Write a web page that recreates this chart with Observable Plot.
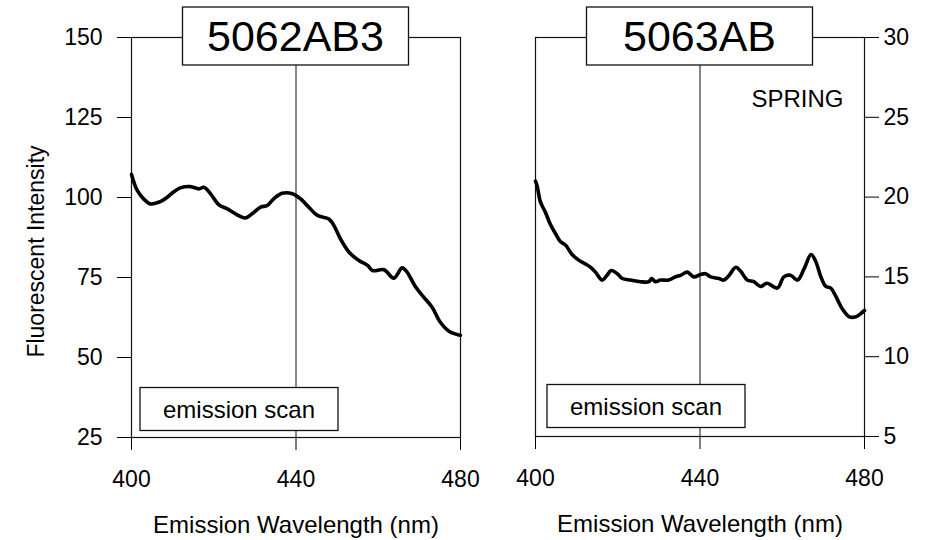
<!DOCTYPE html>
<html>
<head>
<meta charset="utf-8">
<script src="https://cdn.jsdelivr.net/npm/d3@7"></script>
<script src="https://cdn.jsdelivr.net/npm/@observablehq/plot@0.6"></script>
<style>
  html, body { margin: 0; padding: 0; background: #fff; }
  #chart { position: relative; width: 940px; height: 540px; overflow: hidden; background: #fff; }
  #chart svg { position: absolute; top: 0; }
</style>
</head>
<body>
<div id="chart"></div>
<script>
// Emission scans, sample 5062AB3
const leftWavelength = [400, 401.4, 403, 404.6, 406.6, 408.7, 410.3, 411.9, 414.3, 416.4, 417.6, 419.2, 421.2, 423.2, 425.7, 427.7, 429.3, 431.4, 433.0, 434.6, 436.6, 439.1, 441.1, 443.1, 445.2, 448.0, 449.2, 450.8, 452.9, 455.3, 457.4, 458.6, 461.4, 463.8, 465.8, 467.0, 469.1, 471.1, 473.1, 475.1, 477.2, 480];
const leftIntensity = [107.2, 102.2, 99.5, 98.0, 98.5, 100.1, 101.8, 103.0, 103.4, 102.7, 103.2, 101.2, 97.8, 96.5, 94.6, 93.6, 94.9, 97.0, 97.5, 99.6, 101.3, 101.2, 99.6, 97.0, 94.4, 93.3, 91.3, 87.1, 82.9, 80.3, 78.8, 77.2, 77.4, 74.8, 78.0, 76.7, 72.0, 68.8, 65.7, 61.0, 58.2, 56.9];

// Emission scans, sample 5063AB (spring)
const rightWavelength = [400, 400.4, 401.2, 402.4, 403.6, 404.9, 406.1, 407.3, 408.9, 410.5, 412.2, 413.4, 414.6, 416.2, 417.4, 418.4, 419.9, 421.1, 423.1, 425.5, 427.6, 428.2, 429.2, 430.4, 432.4, 434.0, 435.3, 436.9, 438.5, 440.1, 441.3, 442.6, 444.6, 445.8, 447.1, 448.7, 449.9, 451.5, 453.1, 454.7, 456.3, 458.8, 460.4, 462.0, 463.7, 465.3, 467.0, 468.1, 469.4, 470.6, 471.8, 473.0, 474.6, 476.3, 477.9, 479.1, 480];
const rightIntensity = [21.0, 20.7, 19.7, 19.05, 18.3, 17.7, 17.2, 17.0, 16.4, 16.05, 15.8, 15.6, 15.3, 14.8, 15.1, 15.4, 15.2, 14.9, 14.8, 14.7, 14.7, 14.9, 14.7, 14.8, 14.8, 15.0, 15.1, 15.3, 15.0, 15.15, 15.2, 15.0, 14.9, 14.8, 15.1, 15.6, 15.35, 14.8, 14.7, 14.4, 14.6, 14.3, 15.0, 15.1, 14.8, 15.5, 16.4, 16.0, 15.0, 14.4, 14.3, 13.8, 13.0, 12.5, 12.5, 12.7, 12.9];

const xTicks = [400, 440, 480];
const leftTicks = [25, 50, 75, 100, 125, 150];
const rightTicks = [5, 10, 15, 20, 25, 30];

const sampleNames = ["5062AB3", "5063AB"];
const scanLabel = "emission scan";
const seasonLabel = "SPRING";
const xTitle = "Emission Wavelength (nm)";
const yTitle = "Fluorescent Intensity";

const FONT = '"Liberation Sans", Arial, Helvetica, sans-serif';
const INK = "#111";

const toRows = (xs, ys) => xs.map((x, i) => ({wavelength: x, intensity: ys[i]}));

// A white box with centered text, drawn on top of the plot
function labelBox(svg, {cx, cy, w, h, text, size}) {
  const g = d3.select(svg).append("g");
  g.append("rect")
    .attr("x", cx - w / 2).attr("y", cy - h / 2)
    .attr("width", w).attr("height", h)
    .attr("fill", "#fff").attr("stroke", INK).attr("stroke-width", 1.3);
  g.append("text")
    .attr("x", cx).attr("y", cy)
    .attr("text-anchor", "middle").attr("dominant-baseline", "central")
    .attr("font-family", FONT).attr("font-size", size).attr("fill", "#000")
    .text(text);
}

function panel({rows, yDomain, yTicks, yAnchor, width, left, margins, tickPadY, extraMarks, name, scanBox}) {
  const plot = Plot.plot({
    width, height: 540,
    marginLeft: margins.left, marginRight: margins.right,
    marginTop: margins.top, marginBottom: margins.bottom,
    style: {fontFamily: FONT, fontSize: "23px", color: "#000", background: "transparent", overflow: "visible"},
    x: {domain: [400, 480], ticks: xTicks, tickSize: 13, tickPadding: 20, label: null},
    y: {domain: yDomain, ticks: yTicks, axis: yAnchor, tickSize: 14, tickPadding: tickPadY, label: null},
    marks: [
      Plot.ruleX([440], {stroke: INK, strokeWidth: 1}),
      Plot.frame({stroke: INK, strokeWidth: 1.2}),
      Plot.line(rows, {x: "wavelength", y: "intensity", stroke: "#000", strokeWidth: 3.6, curve: "catmull-rom", strokeLinejoin: "round"}),
      Plot.text([xTitle], {text: d => d, frameAnchor: "bottom", dy: 88, textAnchor: "middle", lineAnchor: "middle", fontSize: 24}),
      ...extraMarks
    ]
  });
  plot.style.left = left + "px";
  document.getElementById("chart").appendChild(plot);

  const x = plot.scale("x");
  const y = plot.scale("y");
  const top = y.apply(yDomain[1]);
  const bottom = y.apply(yDomain[0]);
  const x0 = x.apply(400);
  // sample name, centered on the 440 nm line across the top edge
  labelBox(plot, {cx: x.apply(440), cy: top - 1, w: 226, h: 58, text: name, size: 43});
  // scan type, tucked into the lower-left corner
  labelBox(plot, {cx: x0 + scanBox.dx + 99, cy: bottom - scanBox.dy - 22, w: 198, h: 43, text: scanLabel, size: 24});
}

panel({
  rows: toRows(leftWavelength, leftIntensity),
  yDomain: [25, 150], yTicks: leftTicks, yAnchor: "left",
  width: 490, left: 0,
  margins: {left: 131, right: 30, top: 37, bottom: 103},
  tickPadY: 15,
  name: sampleNames[0],
  scanBox: {dx: 9, dy: 6},
  extraMarks: [
    Plot.text([yTitle], {text: d => d, frameAnchor: "left", dx: -95, dy: 14, rotate: -90, textAnchor: "middle", lineAnchor: "middle", fontSize: 23})
  ]
});

panel({
  rows: toRows(rightWavelength, rightIntensity),
  yDomain: [5, 30], yTicks: rightTicks, yAnchor: "right",
  width: 450, left: 490,
  margins: {left: 45, right: 76, top: 37, bottom: 104},
  tickPadY: 5,
  name: sampleNames[1],
  scanBox: {dx: 12, dy: 8},
  extraMarks: [
    Plot.text([seasonLabel], {text: d => d, frameAnchor: "top-right", dx: -21, dy: 62, textAnchor: "end", lineAnchor: "middle", fontSize: 24})
  ]
});
</script>
</body>
</html>
